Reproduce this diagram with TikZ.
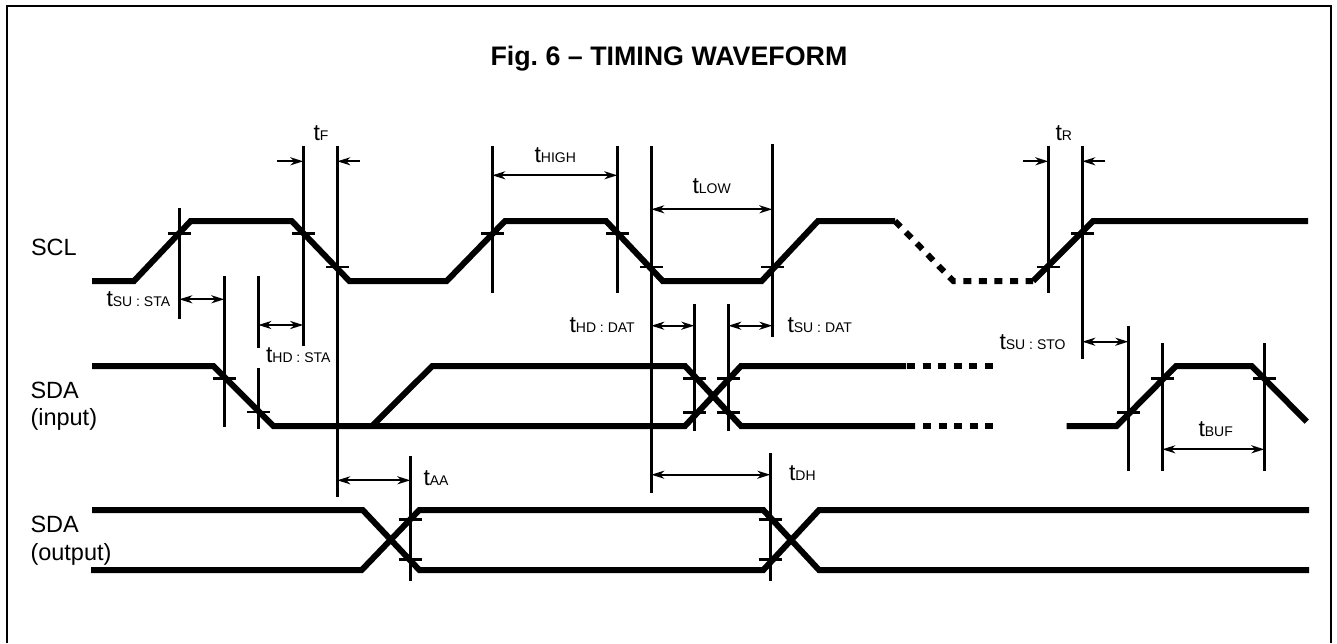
\documentclass[tikz,border=0pt]{standalone}
\usepackage{fontspec}
\setmainfont{Liberation Sans}
\usetikzlibrary{arrows.meta}
\usetikzlibrary{calc}

\frenchspacing
\newcommand{\tparam}[1]{{\fontsize{23}{24}\selectfont t}{\fontsize{14}{16}\selectfont #1}}

\tikzset{
    wave/.style={line width=6pt, line join=miter},
    wavedash/.style={wave, dash pattern=on 8pt off 7.6pt},
    marker/.style={line width=2.6pt},
    tick/.style={line width=2.6pt},
    dim/.style={line width=2pt, >={Stealth[length=13pt,width=8pt,inset=4pt]}},
    lbl/.style={anchor=base west, inner sep=0pt, outer sep=0pt},
    signal/.style={lbl, font=\fontsize{23.5}{24}\selectfont}
}

\begin{document}
\begin{tikzpicture}[x=1pt, y=-1pt]
    \useasboundingbox (0,0) rectangle (1337,643);

    % Frame
    \draw[line width=2.2pt] (6.8,643) -- (6.8,5.8) -- (1330.7,5.8) -- (1330.7,643);

    % Title
    \node[lbl, font=\fontsize{26.8}{28}\selectfont\bfseries] (title) at (490.5,65) {Fig. 6 -- TIMING WAVEFORM};

    % SCL
    \node[signal] (scl) at (31,255) {SCL};
    \draw[wave] (92,281) -- (134,281) -- (190.7,221) -- (291.7,221) -- (349.3,281) -- (446.7,281)
        -- (505,221) -- (606,221) -- (662.7,281) -- (761.7,281) -- (818,221) -- (895,221);
    \draw[wavedash] (895,221) -- (953.3,281) -- (1033,281);
    \draw[wave] (1033,281) -- (1093,221) -- (1308,221);

    % SDA (input)
    \node[signal] (sdai) at (30.5,398) {SDA};
    \node[signal] (sdaibr) at (30.5,425) {(input)};
    \draw[wave] (92,366) -- (213.3,366) -- (273.3,426) -- (685,426) -- (741,366) -- (906,366);
    \draw[wave] (372,426) -- (432.3,366) -- (685,366) -- (741,426) -- (915,426);
    \draw[wavedash] (907,366) -- (993,366);
    \draw[wavedash] (923,426) -- (993,426);
    \draw[wave] (1066.7,426) -- (1116.7,426) -- (1176,366) -- (1251.7,366) -- (1306.7,421.7);

    % SDA (output)
    \node[signal] (sdao) at (30.5,532.7) {SDA};
    \node[signal] (sdaobr) at (30.5,560) {(output)};
    \draw[wave] (92,510) -- (362.7,510) -- (419.3,570) -- (763.3,570) -- (819,510) -- (1309,510);
    \draw[wave] (91,570) -- (361.7,570) -- (419.3,510) -- (763.3,510) -- (819,570) -- (1309,570);

    % Vertical markers
    \foreach \name/\x/\ytop/\ybot in {
        va/179.3/208/319.3, vb/224.3/276/427.3, vc/258.3/276/347.7, vd/258.3/368.3/429,
        ve/303.3/146/345.7, vf/337.3/146/497.3, vg/492.3/146/292.7, vh/617.3/146/292.7,
        vi/651.3/146/492.7, vj/772.3/144/337.3, vk/694.3/304/430.7, vl/728.3/304/430.7,
        vm/1048.3/146/292.7, vn/1082.3/146/358.7, vo/1128.3/326/470.7, vp/1162.3/343/470.7,
        vq/1264.3/343/470.7, vr/410.3/456/580.7, vs/770.3/453.3/580.7} {
        \coordinate (\name) at (\x,\ytop);
        \coordinate (\name-b) at (\x,\ybot);
        \draw[marker] (\name) -- (\name-b);
    }

    % Ticks on the markers
    \foreach \mk/\y in {
        va/233.3, ve/233.3, vf/267, vg/233.3, vh/233.3, vi/267, vj/267, vm/267, vn/233.3,
        vb/378.3, vd/412, vk/378.3, vk/412.3, vl/378.3, vl/412.3, vo/412.3, vp/378.3, vq/378.3,
        vr/519.3, vr/559.3, vs/519.3, vs/559.3} {
        \draw[tick] (\mk |- 0,\y) ++(-11.5,0) -- ++(23,0);
    }

    % Two-way dimension arrows
    \foreach \from/\to/\y in {
        va/vb/299.3, vc/ve/325, vg/vh/175.3, vi/vj/209.3, vi/vk/325.7, vl/vj/325.7,
        vn/vo/341.7, vp/vq/449.3, vf/vr/480.3, vi/vs/474.7} {
        \draw[dim, <->] (\from |- 0,\y) -- (\to |- 0,\y);
    }

    % One-way arrows for the edges
    \coordinate (fl) at (277.3,161.3);
    \coordinate (fr) at (360,161.3);
    \coordinate (rl) at (1023.3,161.3);
    \coordinate (rr) at (1105,161.3);
    \draw[dim, ->] (fl) -- (fl -| ve);
    \draw[dim, ->] (fr) -- (fr -| vf);
    \draw[dim, ->] (rl) -- (rl -| vm);
    \draw[dim, ->] (rr) -- (rr -| vn);

    % Timing labels
    \node[lbl] (tf) at (313.5,140) {\tparam{F}};
    \node[lbl] (tsusta) at (106.5,306) {\tparam{SU : STA}};
    \node[lbl] (thdsta) at (266,362.5) {\tparam{HD : STA}};
    \node[lbl] (thigh) at (534.5,162) {\tparam{HIGH}};
    \node[lbl] (tlow) at (692.5,193) {\tparam{LOW}};
    \node[lbl] (thddat) at (569.5,332) {\tparam{HD : DAT}};
    \node[lbl] (tsudat) at (787.5,332) {\tparam{SU : DAT}};
    \node[lbl] (tr) at (1055.5,140) {\tparam{R}};
    \node[lbl] (tsusto) at (999.5,349.5) {\tparam{SU : STO}};
    \node[lbl] (tbuf) at (1198.5,436.5) {\tparam{BUF}};
    \node[lbl] (taa) at (423.5,485) {\tparam{AA}};
    \node[lbl] (tdh) at (789,480) {\tparam{DH}};
\end{tikzpicture}
\end{document}
